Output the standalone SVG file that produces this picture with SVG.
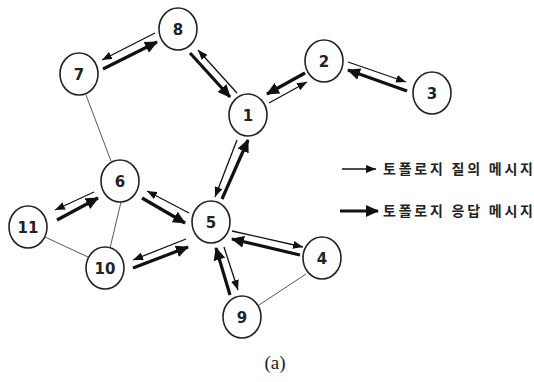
<svg xmlns="http://www.w3.org/2000/svg" width="534" height="382" viewBox="0 0 534 382">
<style>
.node ellipse{fill:#fff;stroke:#222;stroke-width:1.6}
.node text{font-family:"DejaVu Sans",sans-serif;font-weight:bold;font-size:15px;fill:#222;text-anchor:middle;dominant-baseline:central}
.link{stroke:#444;stroke-width:0.9;fill:none}
.q{stroke:#111;stroke-width:1.3;fill:none;marker-end:url(#hq)}
.r{stroke:#111;stroke-width:3.2;fill:none;marker-end:url(#hr)}
.lg{font-family:"Noto Sans CJK KR","Noto Sans",sans-serif;font-size:14px;font-weight:bold;fill:#222}
</style>
<defs>
<marker id="hq" markerUnits="userSpaceOnUse" markerWidth="10" markerHeight="8" refX="10" refY="4" orient="auto"><path d="M0,0 L10,4 L0,8 z" fill="#111"/></marker>
<marker id="hr" markerUnits="userSpaceOnUse" markerWidth="13" markerHeight="12" refX="12" refY="6" orient="auto"><path d="M0,0 L13,6 L0,12 z" fill="#111"/></marker>
</defs>
<rect width="534" height="382" fill="#fff"/>
<g id="connectors">
<line class="link" x1="86" y1="95" x2="111" y2="161"/>
<line class="link" x1="45" y1="237" x2="88" y2="257"/>
<line class="link" x1="121" y1="202" x2="110" y2="248"/>
<line class="link" x1="306" y1="274" x2="259" y2="305"/>
<line class="q" x1="155" y1="33" x2="102" y2="60"/>
<line class="r" x1="103" y1="69" x2="157" y2="42"/>
<line class="r" x1="190" y1="53" x2="230" y2="97"/>
<line class="q" x1="237" y1="93" x2="198" y2="50"/>
<line class="r" x1="305" y1="73" x2="267" y2="94"/>
<line class="q" x1="269" y1="103" x2="307" y2="82"/>
<line class="q" x1="348" y1="62" x2="406" y2="82"/>
<line class="r" x1="407" y1="91" x2="348" y2="70"/>
<line class="q" x1="237" y1="140" x2="215" y2="197"/>
<line class="r" x1="222" y1="199" x2="248" y2="140"/>
<line class="r" x1="142" y1="198" x2="185" y2="223"/>
<line class="q" x1="189" y1="213" x2="147" y2="191"/>
<line class="q" x1="94" y1="192" x2="55" y2="210"/>
<line class="r" x1="57" y1="220" x2="98" y2="198"/>
<line class="q" x1="186" y1="239" x2="133" y2="260"/>
<line class="r" x1="133" y1="268" x2="188" y2="247"/>
<line class="q" x1="232" y1="231" x2="303" y2="247"/>
<line class="r" x1="300" y1="255" x2="232" y2="239"/>
<line class="q" x1="224" y1="247" x2="238" y2="290"/>
<line class="r" x1="230" y1="295" x2="216" y2="248"/>
</g>
<g id="n1" class="node"><ellipse cx="248" cy="115" rx="19" ry="21"/><text x="248" y="116">1</text></g>
<g id="n2" class="node"><ellipse cx="324" cy="61" rx="19" ry="21"/><text x="324" y="62">2</text></g>
<g id="n3" class="node"><ellipse cx="432" cy="93" rx="19" ry="21"/><text x="432" y="94">3</text></g>
<g id="n4" class="node"><ellipse cx="322" cy="258" rx="19" ry="21"/><text x="322" y="259">4</text></g>
<g id="n5" class="node"><ellipse cx="211" cy="222" rx="19" ry="21"/><text x="211" y="223">5</text></g>
<g id="n6" class="node"><ellipse cx="120" cy="181" rx="19" ry="21"/><text x="120" y="182">6</text></g>
<g id="n7" class="node"><ellipse cx="79" cy="74" rx="19" ry="21"/><text x="79" y="75">7</text></g>
<g id="n8" class="node"><ellipse cx="178" cy="29" rx="19" ry="21"/><text x="178" y="30">8</text></g>
<g id="n9" class="node"><ellipse cx="242" cy="317" rx="19" ry="21"/><text x="242" y="318">9</text></g>
<g id="n10" class="node"><ellipse cx="105" cy="268" rx="19" ry="21"/><text x="105" y="269">10</text></g>
<g id="n11" class="node"><ellipse cx="28" cy="227" rx="19" ry="21"/><text x="28" y="228">11</text></g>
<g id="legend">
<line class="q" x1="342" y1="169" x2="376" y2="169"/>
<text class="lg" x="383" y="174" textLength="150" lengthAdjust="spacing">토폴로지 질의 메시지</text>
<line class="r" x1="340" y1="211" x2="378" y2="211"/>
<text class="lg" x="383" y="216" textLength="150" lengthAdjust="spacing">토폴로지 응답 메시지</text>
</g>
<text x="275" y="369" font-family="Liberation Serif,serif" font-size="19" fill="#222" text-anchor="middle">(a)</text>
</svg>
